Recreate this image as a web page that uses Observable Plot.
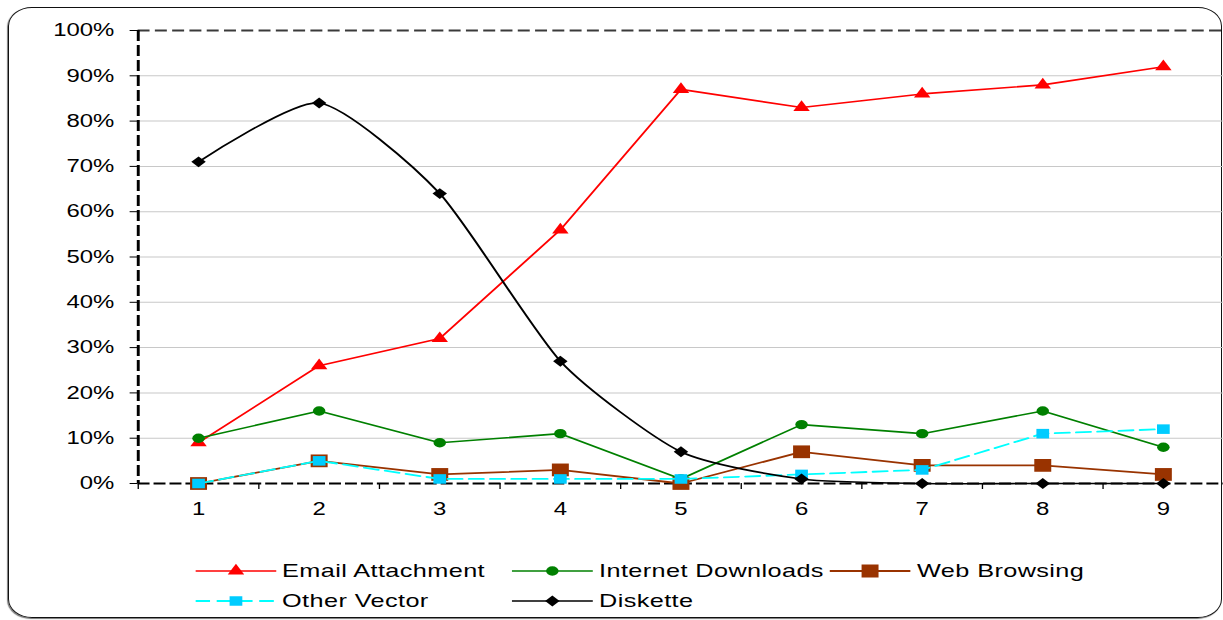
<!DOCTYPE html>
<html>
<head>
<meta charset="utf-8">
<script src="https://cdn.jsdelivr.net/npm/d3@7"></script>
<script src="https://cdn.jsdelivr.net/npm/@observablehq/plot@0.6"></script>
<style>
  html, body { margin: 0; padding: 0; background: #fff; overflow: hidden; }
  #wrap { position: relative; width: 1223px; height: 620px; overflow: hidden; font-family: "Liberation Sans", Arial, sans-serif; }
  #frame { position: absolute; left: 8px; top: 7px; width: 1214px; height: 611px; box-sizing: border-box;
           border: 1.6px solid #111; border-radius: 24px / 19px; box-shadow: -1px 1px 1px #777; }
  .scaled { position: absolute; left: 0; top: 0; transform-origin: 0 0; }
  .leg { position: absolute; display: flex; align-items: center; white-space: nowrap; font-size: 19px; letter-spacing: 0.3px; color: #000; }
  .leg svg { display: block; margin-right: 4.5px; }
</style>
</head>
<body>
<div id="wrap">
  <div id="frame"></div>
  <div id="chart" class="scaled"></div>
  <div id="legend" class="scaled"></div>
</div>
<script>
// ---- data ----
const periods = [1, 2, 3, 4, 5, 6, 7, 8, 9];
const seriesNames = ["Email Attachment", "Internet Downloads", "Web Browsing", "Other Vector", "Diskette"];
const emailAttachment   = [9, 26, 32, 56, 87, 83, 86, 88, 92];
const internetDownloads = [10, 16, 9, 11, 1, 13, 11, 16, 8];
const webBrowsing       = [0, 5, 2, 3, 0, 7, 4, 4, 2];
const otherVector       = [0, 5, 1, 1, 1, 2, 3, 11, 12];
const diskette          = [71, 84, 64, 27, 7, 1, 0, 0, 0];
const yTickValues = [0, 10, 20, 30, 40, 50, 60, 70, 80, 90, 100];

// ---- styles (kept apart from data) ----
const seriesValues = [emailAttachment, internetDownloads, webBrowsing, otherVector, diskette];
const styles = [
  {line: "#ff0000", fill: "#ff0000", symbol: "triangle", r: 4.6, dash: null, curve: "linear", width: 1.6},
  {line: "#008000", fill: "#008000", symbol: "circle", r: 4.7, dash: null, curve: "linear", width: 1.6},
  {line: "#993300", fill: "#993300", symbol: "square", r: 7.2, dash: null, curve: "linear", width: 1.8},
  {line: "#00ffff", fill: "#00ccff", symbol: "square", r: 5.4, dash: "11,5", curve: "linear", width: 1.8},
  {line: "#000000", fill: "#000000", symbol: "diamond2", r: 4.9, dash: null, curve: "cardinal", tension: 0.35, width: 1.6}
];

const W = 920;
const S = 1223 / W;

const rows = seriesNames.map((name, i) => periods.map((p, j) => ({series: name, period: p, value: seriesValues[i][j]})));
const gridValues = yTickValues.filter(v => v > 0 && v < 100);
const boundaries = d3.range(0.5, periods.length + 1, 1);

const seriesMarks = rows.flatMap((data, i) => {
  const s = styles[i];
  const lineOpts = {x: "period", y: "value", stroke: s.line, strokeWidth: s.width, strokeDasharray: s.dash, curve: s.curve};
  if (s.tension != null) lineOpts.tension = s.tension;
  return [
    Plot.line(data, lineOpts),
    Plot.dot(data, {x: "period", y: "value", symbol: () => s.symbol, r: s.r, fill: s.fill, stroke: "none"})
  ];
});

const chart = Plot.plot({
  width: W,
  height: 520,
  marginTop: 30,
  marginBottom: 37,
  marginLeft: 103.5,
  marginRight: 0,
  x: {type: "linear", domain: [0.5, periods.length + 0.5]},
  y: {domain: [0, 100]},
  symbol: {type: "identity"},
  style: {fontFamily: "'Liberation Sans', Arial, sans-serif", fontSize: "18px", color: "#000", background: "transparent", overflow: "visible"},
  marks: [
    Plot.ruleY(gridValues, {stroke: "#c8c8c8", strokeWidth: 1}),
    Plot.ruleY([100], {stroke: "#3a3a3a", strokeWidth: 2, strokeDasharray: "9,4"}),
    Plot.axisY({ticks: yTickValues, tickFormat: d => d + "%", tickSize: 6, tickPadding: 12, label: null, fontSize: 18}),
    Plot.axisX({ticks: periods, tickSize: 0, tickPadding: 19, label: null, fontSize: 18}),
    Plot.axisX({ticks: boundaries, tickSize: 6, tickFormat: () => "", label: null}),
    Plot.ruleY([0], {stroke: "#000", strokeWidth: 2, strokeDasharray: "9,3"}),
    ...seriesMarks,
    Plot.ruleX([0.5], {stroke: "#000", strokeWidth: 2.2, strokeDasharray: "11,4"})
  ]
});
const chartDiv = document.getElementById("chart");
chartDiv.style.width = W + "px";
chartDiv.style.transform = `scaleX(${S})`;
chartDiv.appendChild(chart);

// ---- legend ----
const legendDiv = document.getElementById("legend");
legendDiv.style.width = W + "px";
legendDiv.style.height = "620px";
legendDiv.style.transform = `scaleX(${S})`;
const legendPos = [[195, 571], [512, 571], [830, 571], [195, 601], [512, 601]];
const symbolMap = {triangle: d3.symbolTriangle, circle: d3.symbolCircle, square: d3.symbolSquare, diamond2: d3.symbolDiamond2};
const LW = 61;
seriesNames.forEach((name, i) => {
  const s = styles[i];
  const item = d3.select(legendDiv).append("div").attr("class", "leg")
    .style("left", (legendPos[i][0] / S) + "px")
    .style("top", (legendPos[i][1] - 12) + "px")
    .style("height", "24px");
  const svg = item.append("svg").attr("width", LW).attr("height", 24);
  svg.append("line").attr("x1", 0).attr("x2", LW).attr("y1", 12).attr("y2", 12)
    .attr("stroke", s.line).attr("stroke-width", s.width).attr("stroke-dasharray", s.dash);
  svg.append("path").attr("transform", `translate(${LW / 2},12)`)
    .attr("d", d3.symbol(symbolMap[s.symbol], Math.PI * s.r * s.r)())
    .attr("fill", s.fill);
  item.append("span").text(name);
});
</script>
</body>
</html>
